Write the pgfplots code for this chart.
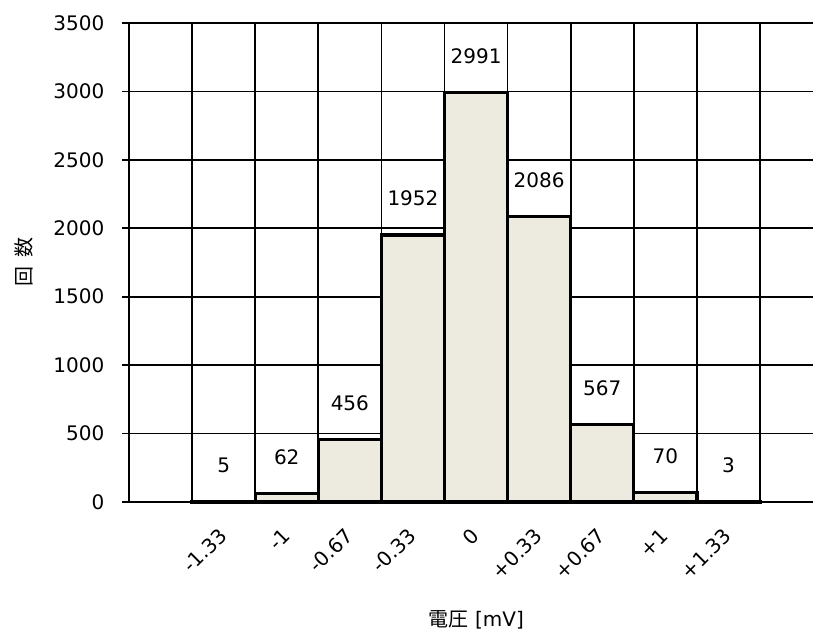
\documentclass[border=0pt]{standalone}
\usepackage{pgfplots}
\pgfplotsset{compat=1.18}
\usepackage{fontspec}
\setmainfont{DejaVu Sans}
\newfontfamily\cjk{Noto Sans CJK JP}
\definecolor{barfill}{HTML}{EDEBE0}

\begin{document}
\fontsize{15}{18}\selectfont
\begin{tikzpicture}
\begin{axis}[
  name=ax,
  scale only axis,
  width=513pt, height=359.25pt,
  xmin=-0.5, xmax=10.34,
  ymin=0, ymax=3500,
  axis x line*=bottom, axis y line*=left,
  axis line style={-, black, line width=1.3pt},
  clip=false,
  ybar, bar width=1,
  xtick={1,2,3,4,5,6,7,8,9},
  xticklabels={-1.33,-1,-0.67,-0.33,0,+0.33,+0.67,+1,+1.33},
  minor xtick={-0.5,0.5,1.5,2.5,3.5,4.5,5.5,6.5,7.5,8.5,9.5},
  xminorgrids,
  minor grid style={black, line width=1.3pt},
  xtick style={draw=none},
  xticklabel style={xshift=-0.4pt, yshift=-17.2pt, rotate=45, anchor=east, inner sep=0pt},
  ytick={0,500,...,3500},
  ymajorgrids,
  major grid style={black, line width=1.3pt},
  ytick style={black, line width=1.3pt},
  tick align=outside,
  major tick length=5.25pt,
  yticklabel style={anchor=east, inner sep=0pt, xshift=-13pt},
  /pgf/number format/assume math mode=true,
  /pgf/number format/1000 sep={},
  nodes near coords,
  nodes near coords style={anchor=south, inner sep=0pt, yshift=20.5pt},
  xlabel={{\cjk 電圧} [mV]},
  xlabel style={at={(axis description cs:0.5,0)}, anchor=center, xshift=4pt, yshift=-88.5pt},
  ylabel={\cjk 回\hspace{0.45em}数},
  ylabel style={at={(axis description cs:0,0.5)}, anchor=center, yshift=78.75pt},
]
% bin counts
\addplot[draw=black, line width=2.5pt, fill=barfill] coordinates {
  (1,5) (2,62) (3,456) (4,1952) (5,2991) (6,2086) (7,567) (8,70) (9,3)
};
\end{axis}
\pgfresetboundingbox
\path ([xshift=-96.75pt,yshift=-104.25pt]ax.south west) rectangle ([yshift=17.25pt]ax.north east);
\end{tikzpicture}
\end{document}
